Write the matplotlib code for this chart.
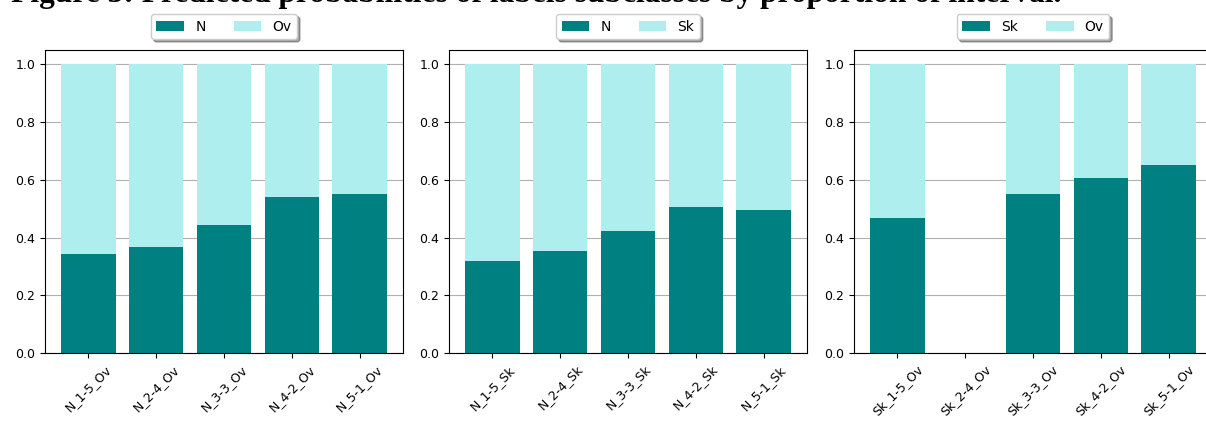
import numpy as np
import matplotlib
matplotlib.use("Agg")
import matplotlib.pyplot as plt

# ── data ───────────────────────────────────────────────────────────────────────
labels_n_ov = ["N_1-5_Ov", "N_2-4_Ov", "N_3-3_Ov", "N_4-2_Ov", "N_5-1_Ov"]
n_vs_ov     = [0.342, 0.368, 0.443, 0.541, 0.550]
ov_vs_n     = [0.658, 0.632, 0.557, 0.459, 0.450]

labels_n_sk = ["N_1-5_Sk", "N_2-4_Sk", "N_3-3_Sk", "N_4-2_Sk", "N_5-1_Sk"]
n_vs_sk     = [0.319, 0.354, 0.422, 0.507, 0.497]
sk_vs_n     = [0.681, 0.646, 0.578, 0.493, 0.503]

labels_sk_ov = ["Sk_1-5_Ov", "Sk_2-4_Ov", "Sk_3-3_Ov", "Sk_4-2_Ov", "Sk_5-1_Ov"]
sk_vs_ov     = [0.467, np.nan, 0.551, 0.607, 0.650]
ov_vs_sk     = [0.533, np.nan, 0.449, 0.393, 0.350]

TEAL  = "#008080"
PALE  = "#AFEEEE"
W, H  = 1206, 426

panels = [
    (labels_n_ov,  n_vs_ov,  ov_vs_n,  ("N", "Ov")),
    (labels_n_sk,  n_vs_sk,  sk_vs_n,  ("N", "Sk")),
    (labels_sk_ov, sk_vs_ov, ov_vs_sk, ("Sk", "Ov")),
]
lefts = [45, 449, 854]

fig = plt.figure(figsize=(W / 100, H / 100), dpi=100)

# caption of the source document, cropped by the top edge (as in the reference)
fig.text(11 / W, 1 - 2 / H,
         "Figure 3: Predicted probabilities of labels subclasses by proportion of interval.",
         family="Liberation Serif", fontweight="bold", fontsize=22.6, va="baseline")

for (labels, lower, upper, names), left in zip(panels, lefts):
    ax = fig.add_axes([left / W, 73 / H, 358 / W, 303 / H])
    x = np.arange(len(labels))
    ax.bar(x, lower, color=TEAL, label=names[0])
    ax.bar(x, upper, bottom=lower, color=PALE, label=names[1])
    ax.set_axisbelow(True)
    ax.grid(axis="y")
    ax.set_xticks(x)
    ax.set_xticklabels(labels, rotation=45)
    ax.tick_params(labelsize=9)
    ax.legend(loc="lower center", bbox_to_anchor=(0.5, 1.036), borderaxespad=0,
              ncol=2, shadow=True, fontsize=10)

fig.savefig("out.png", dpi=100)
